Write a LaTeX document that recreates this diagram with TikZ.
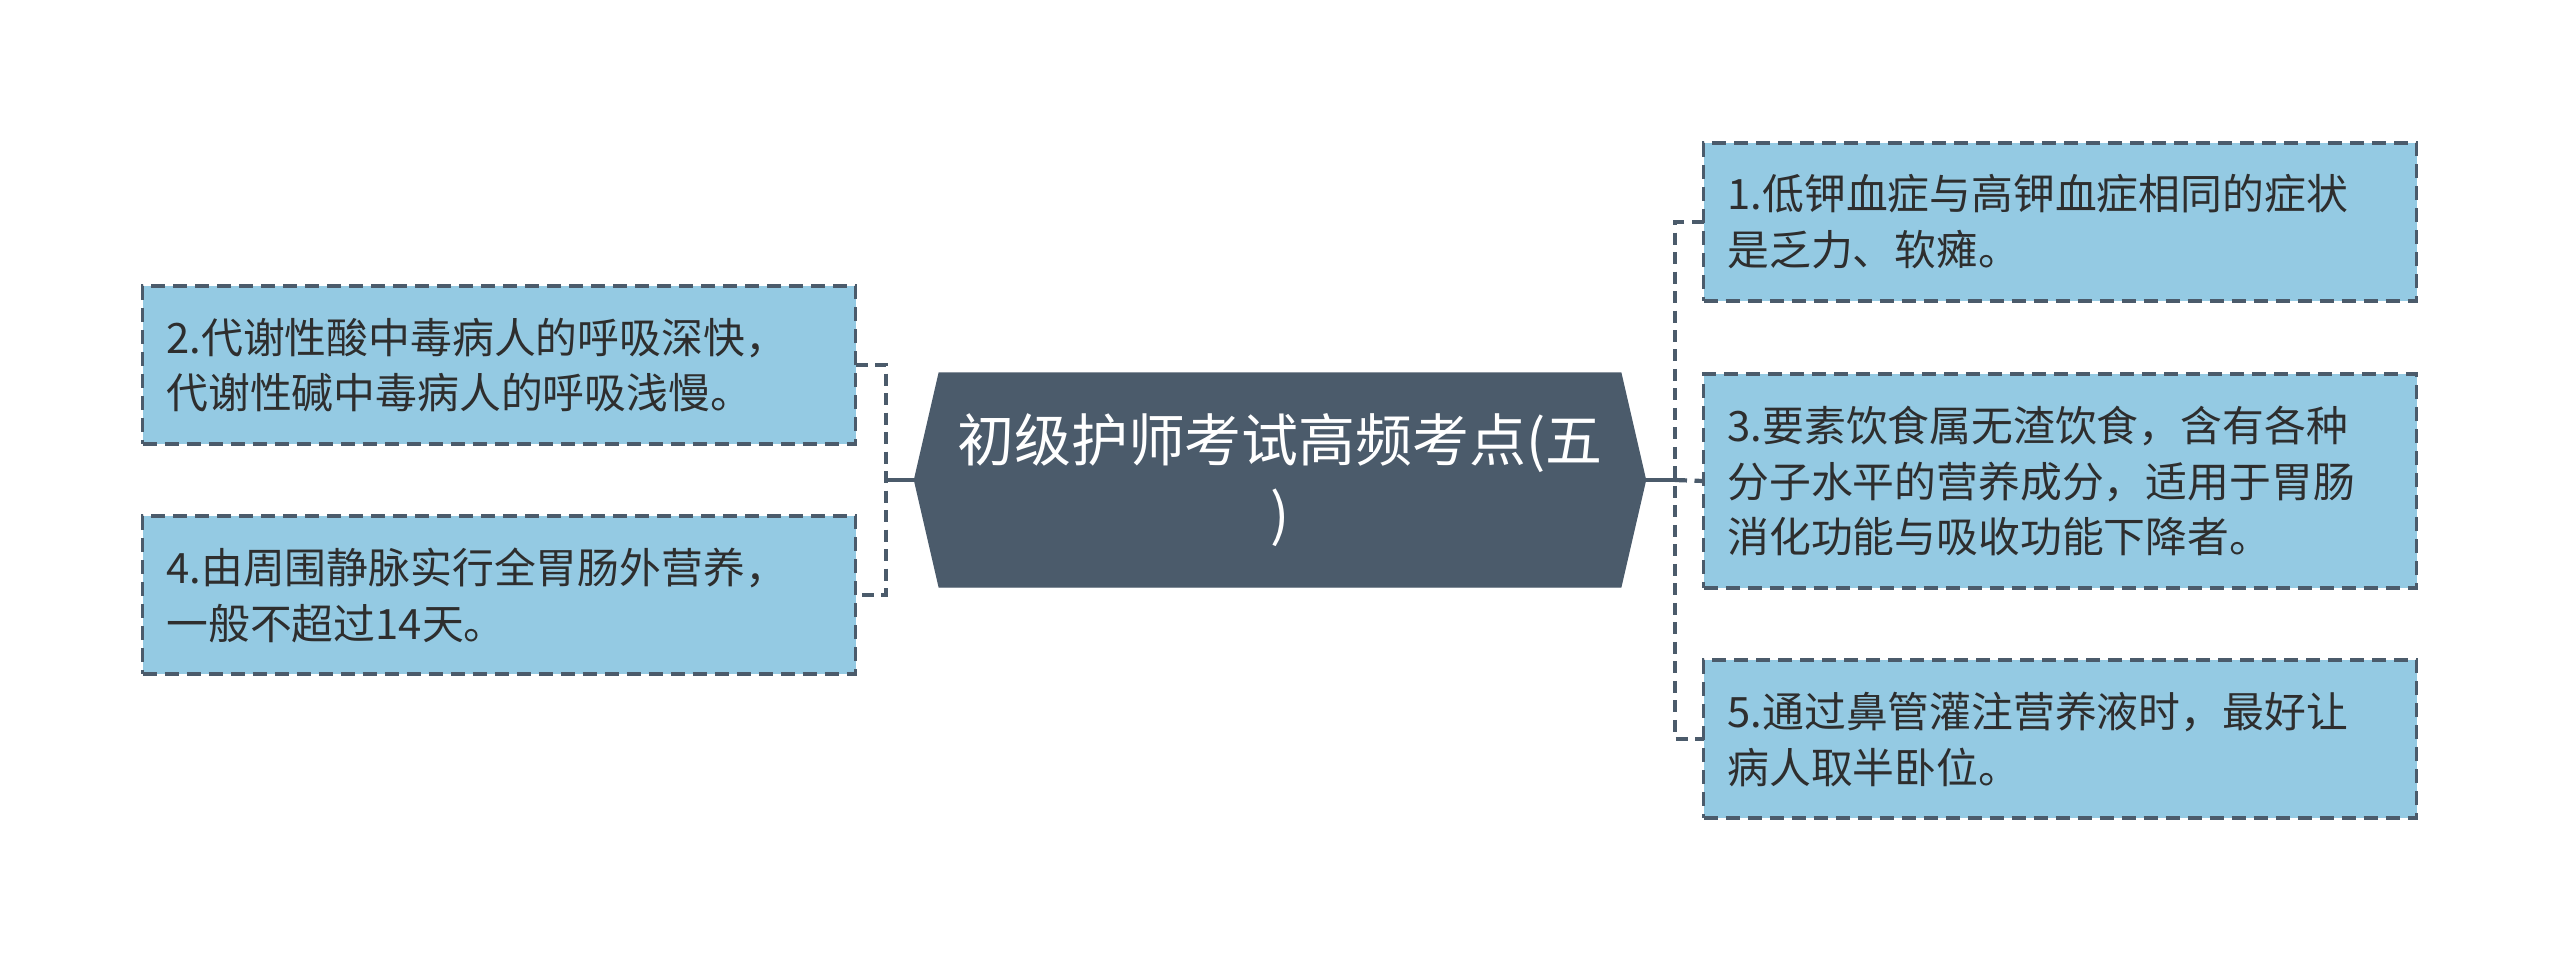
\documentclass[tikz,border=0pt]{standalone}
\usepackage{fontspec}
\setmainfont{Noto Sans CJK SC}
\usetikzlibrary{shapes.symbols}

\definecolor{slate}{HTML}{4B5B6B}
\definecolor{paleblue}{HTML}{94CAE3}
\definecolor{ink}{HTML}{2E2E2E}

\begin{document}
\begin{tikzpicture}[x=0.1mm, y=-0.1mm]
   \tikzstyle{every node}=[inner sep=0pt, outer sep=0pt]
   \tikzstyle{topic}=[signal, signal to=west and east, signal pointer angle=154, fill=slate, draw=slate, minimum width=73.1mm, minimum height=21.4mm, text=white, align=center, font=\fontsize{16.2pt}{21pt}\selectfont]
   \tikzstyle{leaf}=[draw=slate, fill=paleblue, line width=0.32mm, dash pattern=on 1.4mm off 0.8mm, minimum width=71.3mm, minimum height=15.8mm, text width=66.5mm, align=left, text=ink, font=\fontsize{11.9pt}{15.9pt}\selectfont]
   \tikzstyle{link}=[draw=slate, line width=0.42mm]
   \tikzstyle{dlink}=[link, dash pattern=on 1.2mm off 0.75mm]

\useasboundingbox (0,0) rectangle (2560,960);

\node[topic] (top) at (1280,480) {初级护师考试高频考点(五\\)};

% left side
\node[leaf] (b2) at (499,365) {2.代谢性酸中毒病人的呼吸深快，\\代谢性碱中毒病人的呼吸浅慢。};
\node[leaf] (b4) at (499,595) {4.由周围静脉实行全胃肠外营养，\\一般不超过14天。};

% right side
\node[leaf] (b1) at (2060,222) {1.低钾血症与高钾血症相同的症状\\是乏力、软瘫。};
\node[leaf, minimum height=21.4mm] (b3) at (2060,481) {3.要素饮食属无渣饮食，含有各种\\分子水平的营养成分，适用于胃肠\\消化功能与吸收功能下降者。};
\node[leaf] (b5) at (2060,739) {5.通过鼻管灌注营养液时，最好让\\病人取半卧位。};

\coordinate (lj) at (886,480);
\coordinate (rj) at (1675,480);

\draw[link] (top.west) -- (lj);
\draw[dlink] (b2.east) -| (lj) |- (b4.east);
\draw[link] (top.east) -- (rj);
\draw[dlink] (b1.west) -| (rj) |- (b5.west);
\draw[dlink] (rj) -- (b3.west);

\end{tikzpicture}
\end{document}
